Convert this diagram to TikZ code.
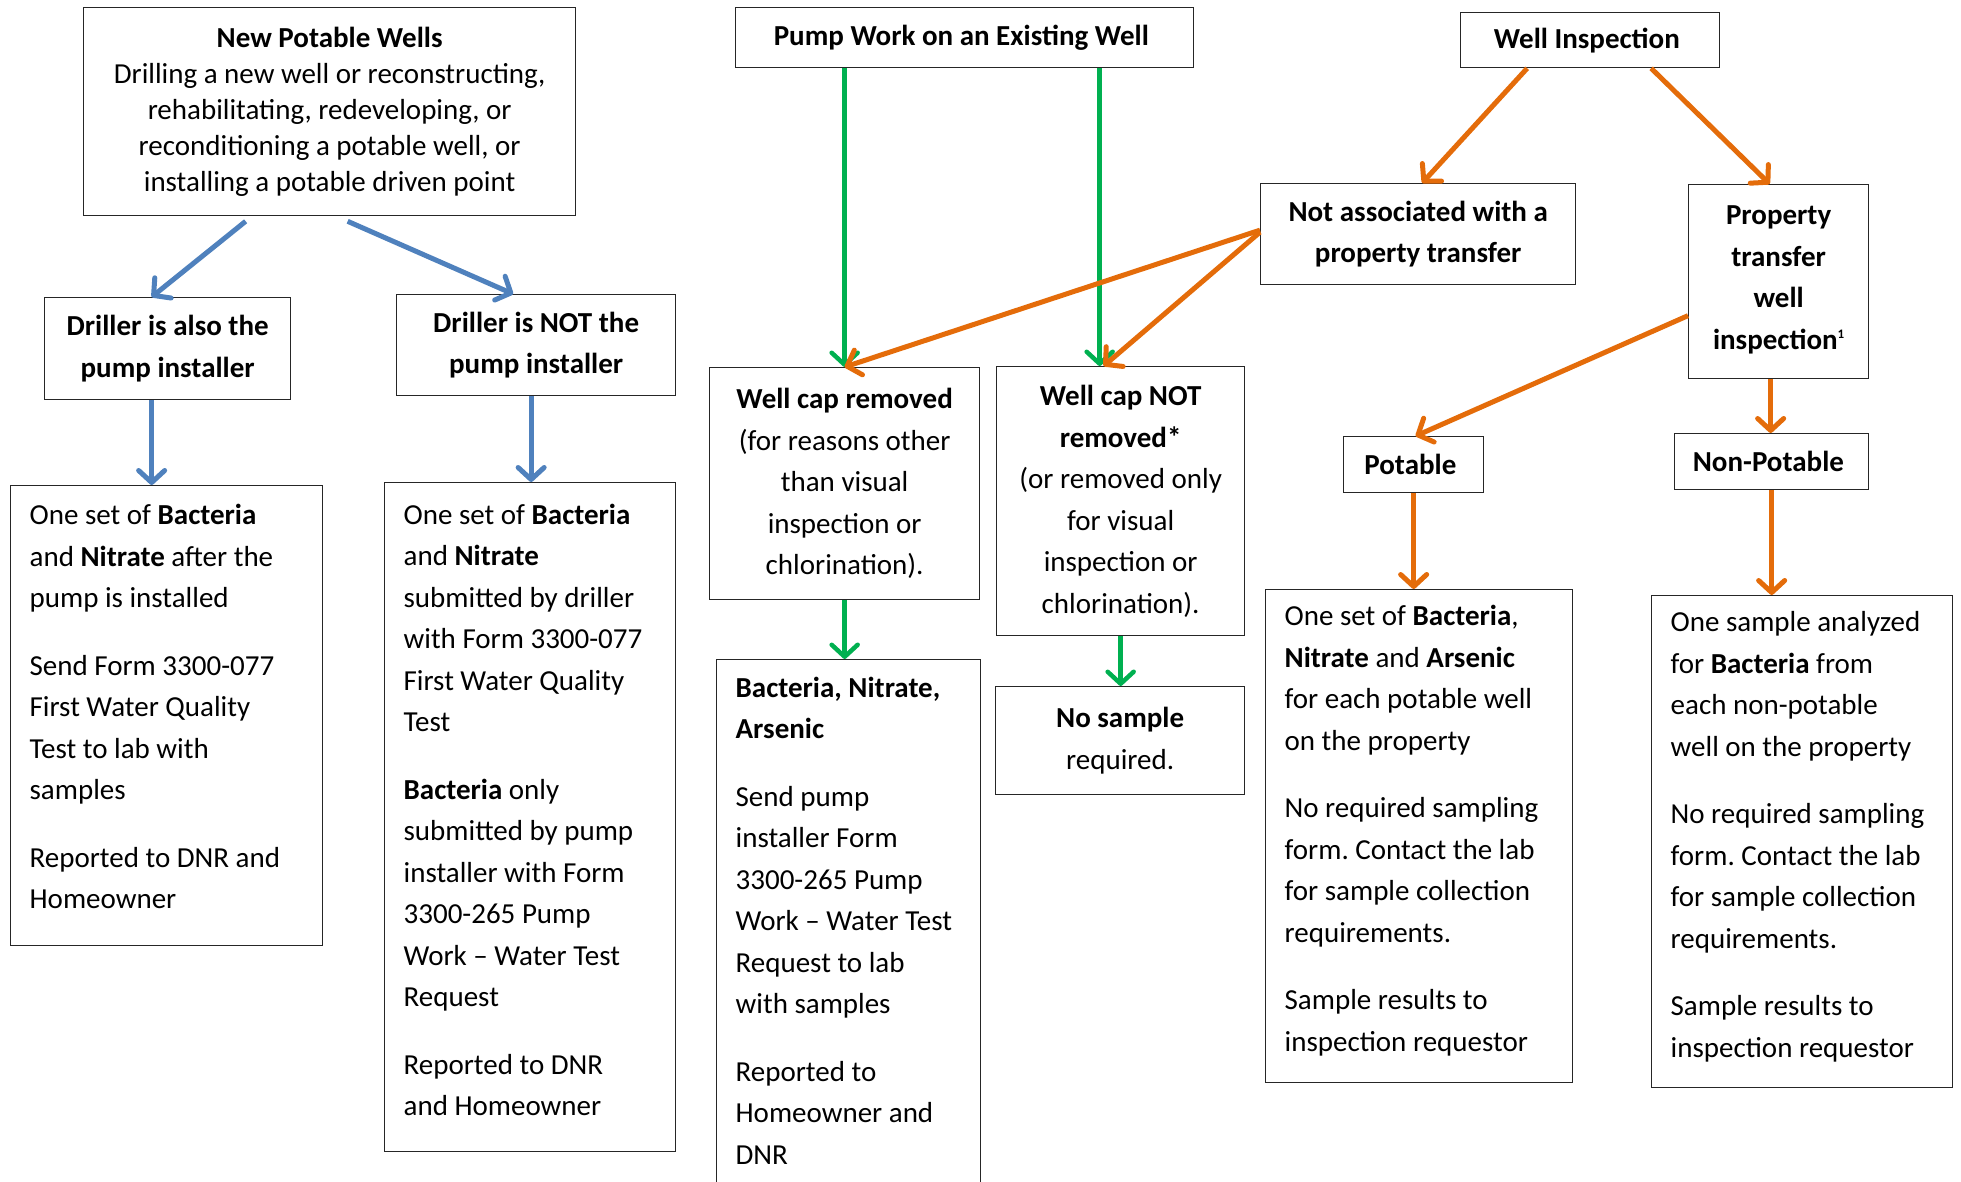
\documentclass[tikz,border=0pt]{standalone}
\usepackage{fontspec}
\setmainfont{Carlito}
\usepackage{xcolor}
\usetikzlibrary{arrows.meta, calc}
\definecolor{flowblue}{HTML}{4F81BD}
\definecolor{flowgreen}{HTML}{00B050}
\definecolor{floworange}{HTML}{E46C0A}
\frenchspacing
\newcommand{\flowfont}{\fontsize{29}{41.5}\selectfont}
\newcommand{\tightfont}{\fontsize{29}{36}\selectfont}
\newcommand{\footmark}[1]{\raisebox{0.75ex}{\fontsize{13}{13}\selectfont #1}}
\newcommand{\liftup}[1]{\\[#1]\mbox{}}
\tikzstyle{box} = [rectangle, draw=black!85, line width=1.3pt, anchor=north west, inner sep=0pt, align=center, font=\flowfont]
\tikzstyle{listbox} = [box, align=flush left, inner xsep=19pt]
\tikzstyle{blueflow} = [line width=5pt, draw=flowblue, -{Straight Barb[length=12pt,width=26pt,round]}]
\tikzstyle{greenflow} = [line width=4.5pt, draw=flowgreen, -{Straight Barb[length=12pt,width=26pt,round]}]
\tikzstyle{orangeflow} = [line width=5pt, draw=floworange, -{Straight Barb[length=12pt,width=26pt,round]}]
\begin{document}
\begin{tikzpicture}[x=1pt, y=-1pt]
      \useasboundingbox (0,0) rectangle (1961,1182);

      % New wells (left column)
      \node[box, minimum width=492pt, minimum height=208pt, font=\tightfont] (npw) at (83,7) {
        \textbf{New Potable Wells}\\Drilling a new well or reconstructing,\\rehabilitating, redeveloping, or\\reconditioning a potable well, or\\installing a potable driven point
      };
      \node[box, minimum width=246pt, minimum height=102pt] (dalso) at (44,297) {
        \textbf{Driller is also the}\\\textbf{pump installer}
      };
      \node[box, minimum width=279pt, minimum height=101pt] (dnot) at (396,294) {
        \textbf{Driller is NOT the}\\\textbf{pump installer}
      };
      \node[listbox, text width=274pt, minimum height=460pt] (lowalso) at (10,485) {
        One set of \textbf{Bacteria}\\and \textbf{Nitrate} after the\\pump is installed\\[26pt]
        Send Form 3300-077\\First Water Quality\\Test to lab with\\samples\\[26pt]
        Reported to DNR and\\Homeowner\liftup{-23.5pt}
      };
      \node[listbox, text width=253pt, minimum height=669pt] (lownot) at (384,482) {
        One set of \textbf{Bacteria}\\and \textbf{Nitrate}\\submitted by driller\\with Form 3300-077\\First Water Quality\\Test\\[26pt]
        \textbf{Bacteria} only\\submitted by pump\\installer with Form\\3300-265 Pump\\Work -- Water Test\\Request\\[26pt]
        Reported to DNR\\and Homeowner\liftup{-26.5pt}
      };

      % Pump work (middle column)
      \node[box, minimum width=458pt, minimum height=60pt] (pumpwork) at (735,7) {
        \textbf{Pump Work on an Existing Well}
      };
      \node[box, minimum width=270pt, minimum height=232pt] (capoff) at (709,367) {
        \textbf{Well cap removed}\\(for reasons other\\than visual\\inspection or\\chlorination).
      };
      \node[box, minimum width=248pt, minimum height=269pt] (capon) at (996,366) {
        \textbf{Well cap NOT}\\\textbf{removed*}\\(or removed only\\for visual\\inspection or\\chlorination).
      };
      \node[listbox, text width=226pt, minimum height=534pt] (capoffreq) at (716,659) {
        \textbf{Bacteria, Nitrate,}\\\textbf{Arsenic}\\[26pt]
        Send pump\\installer Form\\3300-265 Pump\\Work -- Water Test\\Request to lab\\with samples\\[26pt]
        Reported to\\Homeowner and\\DNR\liftup{-29.5pt}
      };
      \node[box, minimum width=249pt, minimum height=108pt] (nosample) at (995,686) {
        \textbf{No sample}\\required.
      };

      % Well inspection (right column)
      \node[box, minimum width=259pt, minimum height=55pt] (inspect) at (1460,12) {
        \textbf{Well Inspection}
      };
      \node[box, minimum width=315pt, minimum height=101pt] (notransfer) at (1260,183) {
        \textbf{Not associated with a}\\\textbf{property transfer}
      };
      \node[box, minimum width=180pt, minimum height=194pt] (transfer) at (1688,184) {
        \textbf{Property}\\\textbf{transfer}\\\textbf{well}\\\textbf{inspection\footmark{1}}\liftup{-33pt}
      };
      \node[box, minimum width=140pt, minimum height=56pt] (potable) at (1343,436) {
        \textbf{Potable}
      };
      \node[box, minimum width=194pt, minimum height=56pt] (nonpotable) at (1674,433) {
        \textbf{Non-Potable}
      };
      \node[listbox, text width=269pt, minimum height=493pt] (potreq) at (1265,589) {
        One set of \textbf{Bacteria},\\\textbf{Nitrate} and \textbf{Arsenic}\\for each potable well\\on the property\\[26pt]
        No required sampling\\form. Contact the lab\\for sample collection\\requirements.\\[26pt]
        Sample results to\\inspection requestor\liftup{-25.5pt}
      };
      \node[listbox, text width=263pt, minimum height=492pt] (nonpotreq) at (1651,595) {
        One sample analyzed\\for \textbf{Bacteria} from\\each non-potable\\well on the property\\[26pt]
        No required sampling\\form. Contact the lab\\for sample collection\\requirements.\\[26pt]
        Sample results to\\inspection requestor\liftup{-27.5pt}
      };

      % Blue arrows
      \draw[blueflow] ([xshift=-84pt,yshift=-5pt]npw.south) -- ([xshift=-16pt]dalso.north);
      \draw[blueflow] ([xshift=18pt,yshift=-5pt]npw.south) -- ([xshift=-23pt]dnot.north);
      \draw[blueflow] ([xshift=-16pt]dalso.south) -- ([xshift=-16pt]dalso.south |- lowalso.north);
      \draw[blueflow] ([xshift=-5pt]dnot.south) -- ([xshift=-5pt]dnot.south |- lownot.north);

      % Green arrows
      \draw[greenflow] ([xshift=-120pt]pumpwork.south) -- ([xshift=-120pt]pumpwork.south |- capoff.north);
      \draw[greenflow] ([xshift=135pt]pumpwork.south) -- ([xshift=135pt]pumpwork.south |- capon.north);
      \draw[greenflow] (capoff.south) -- (capoff.south |- capoffreq.north);
      \draw[greenflow] (capon.south) -- (capon.south |- nosample.north);

      % Orange arrows
      \draw[orangeflow] ([xshift=-63pt]inspect.south) -- ([xshift=4pt]notransfer.north);
      \draw[orangeflow] ([xshift=61pt]inspect.south) -- ([xshift=-9pt]transfer.north);
      \draw[orangeflow] ([yshift=4pt]notransfer.west) -- (capoff.north);
      \draw[orangeflow] ([yshift=2pt]notransfer.west) -- ([xshift=-17pt]capon.north);
      \draw[orangeflow] ([yshift=-34pt]transfer.west) -- ([xshift=2pt]potable.north);
      \draw[orangeflow] ([xshift=-8pt]transfer.south) -- ([xshift=-8pt]transfer.south |- nonpotable.north);
      \draw[orangeflow] (potable.south) -- (potable.south |- potreq.north);
      \draw[orangeflow] (nonpotable.south) -- (nonpotable.south |- nonpotreq.north);
    \end{tikzpicture}
\end{document}
